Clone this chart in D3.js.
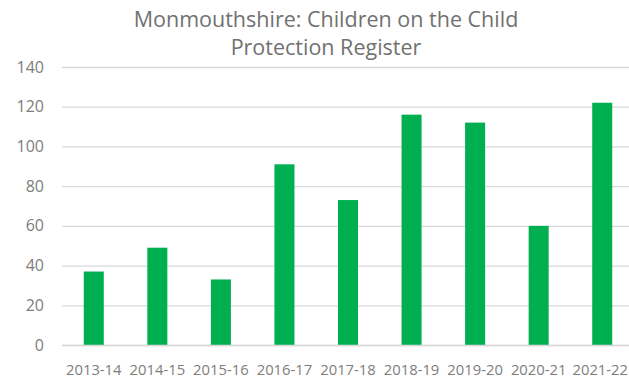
<!DOCTYPE html>
<html>
<head>
<meta charset="utf-8">
<script src="https://cdn.jsdelivr.net/npm/d3@7"></script>
<style>
  html, body { margin: 0; padding: 0; background: #fff; }
  svg { display: block; font-family: "Open Sans", sans-serif; }
</style>
</head>
<body>
<svg id="chart" width="629" height="379"></svg>
<script>
// Children on the Child Protection Register, Monmouthshire, by year
const years = ["2013-14", "2014-15", "2015-16", "2016-17", "2017-18", "2018-19", "2019-20", "2020-21", "2021-22"];
const children = [37, 49, 33, 91, 73, 116, 112, 60, 122];
const yTicks = [0, 20, 40, 60, 80, 100, 120, 140];
const titleLines = ["Monmouthshire: Children on the Child", "Protection Register"];

const svg = d3.select("#chart");
const W = 629;
const plot = { left: 62, right: 634, top: 67, bottom: 345 };

const x = d3.scaleBand()
  .domain(years)
  .range([plot.left, plot.right])
  .paddingInner(0.685)
  .paddingOuter(0.3425);

const y = d3.scaleLinear()
  .domain([0, 140])
  .range([plot.bottom, plot.top]);

// Title
svg.append("g")
  .selectAll("text")
  .data(titleLines)
  .join("text")
  .attr("x", 326)
  .attr("y", (d, i) => 27 + i * 28)
  .attr("text-anchor", "middle")
  .attr("font-size", 21.5)
  .attr("fill", "#717171")
  .text(d => d);

// Horizontal gridlines and value labels
const yAxis = d3.axisLeft(y)
  .tickValues(yTicks)
  .tickSize(-(plot.right - plot.left))
  .tickPadding(18)
  .tickFormat(d3.format("d"));

const gy = svg.append("g")
  .attr("transform", `translate(${plot.left},0)`)
  .call(yAxis);
gy.select(".domain").remove();
gy.selectAll(".tick line").attr("stroke", "#d9d9d9").attr("stroke-width", 1.3);
gy.selectAll(".tick text")
  .attr("font-size", 16)
  .attr("fill", "#7d7d7d")
  .attr("font-family", "\"Open Sans\", sans-serif");

// Bars
svg.append("g")
  .selectAll("rect")
  .data(years.map((yr, i) => ({ yr, v: children[i] })))
  .join("rect")
  .attr("x", d => x(d.yr))
  .attr("y", d => y(d.v))
  .attr("width", x.bandwidth())
  .attr("height", d => y(0) - y(d.v))
  .attr("fill", "#00b050");

// Category axis
const xAxis = d3.axisBottom(x).tickSize(0).tickPadding(19);
const gx = svg.append("g")
  .attr("transform", `translate(0,${plot.bottom})`)
  .call(xAxis);
gx.select(".domain").attr("stroke", "#d9d9d9").attr("stroke-width", 1.3);
gx.selectAll(".tick text")
  .attr("font-size", 14.8)
  .attr("fill", "#7d7d7d")
  .attr("font-family", "\"Open Sans\", sans-serif");

// Keep the right-most category label inside the drawing area
gx.selectAll(".tick").each(function (d) {
  const t = d3.select(this).select("text");
  const half = t.node().getComputedTextLength() / 2;
  const centre = x(d) + x.bandwidth() / 2;
  const overflow = centre + half - (W - 1);
  if (overflow > 0) t.attr("x", -overflow);
});
</script>
</body>
</html>
